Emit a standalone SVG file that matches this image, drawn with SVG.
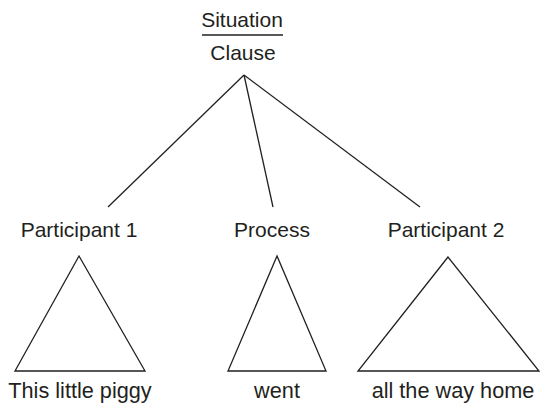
<svg xmlns="http://www.w3.org/2000/svg" width="541" height="405" viewBox="0 0 541 405">
<style>
text{font-family:"Liberation Sans",Arial,sans-serif;font-size:21px;fill:#231f20;text-anchor:middle}
.b{font-size:21.7px}
.s{stroke:#231f20;stroke-width:1.3;fill:none}
</style>
<rect width="541" height="405" fill="#fff"/>
<g id="root">
<text x="242" y="27">Situation</text>
<line class="s" x1="202" y1="35" x2="283" y2="35"/>
<text x="243" y="60">Clause</text>
</g>
<g id="connectors">
<line class="s" x1="244" y1="75" x2="108" y2="207"/>
<line class="s" x1="244" y1="75" x2="273" y2="207"/>
<line class="s" x1="244" y1="75" x2="420" y2="207"/>
</g>
<g id="participant1">
<text x="79" y="237">Participant 1</text>
<polygon class="s" points="79,256 15,371 145,371"/>
<text class="b" x="80" y="398">This little piggy</text>
</g>
<g id="process">
<text x="272" y="237">Process</text>
<polygon class="s" points="277,256 228,371 326,371"/>
<text class="b" x="277" y="398">went</text>
</g>
<g id="participant2">
<text x="446" y="237">Participant 2</text>
<polygon class="s" points="448,257 358,371 539,371"/>
<text class="b" x="453" y="398">all the way home</text>
</g>
</svg>
